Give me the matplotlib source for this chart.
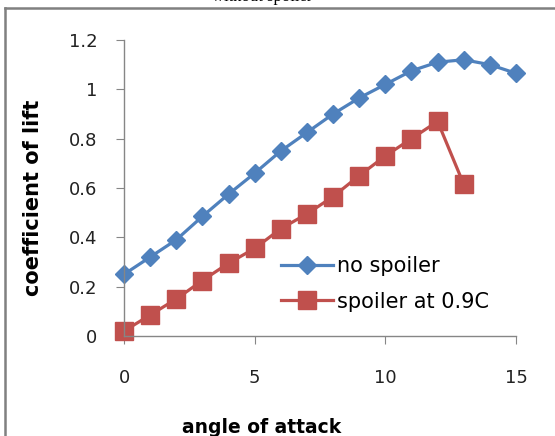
import matplotlib
matplotlib.use('Agg')
import matplotlib.pyplot as plt
from matplotlib.lines import Line2D

angle = [0, 1, 2, 3, 4, 5, 6, 7, 8, 9, 10, 11, 12, 13, 14, 15]
cl_no_spoiler = [0.25, 0.32, 0.39, 0.485, 0.575, 0.66, 0.75, 0.825, 0.90,
                 0.965, 1.02, 1.075, 1.11, 1.12, 1.10, 1.065]
angle_spoiler = [0, 1, 2, 3, 4, 5, 6, 7, 8, 9, 10, 11, 12, 13]
cl_spoiler = [0.02, 0.085, 0.15, 0.225, 0.295, 0.355, 0.435, 0.495, 0.565,
              0.65, 0.73, 0.80, 0.87, 0.615]
xticks = [0, 5, 10, 15]
yticks = [0, 0.2, 0.4, 0.6, 0.8, 1.0, 1.2]
ytick_labels = ['0', '0.2', '0.4', '0.6', '0.8', '1', '1.2']

W, H = 555, 436
fig = plt.figure(figsize=(W / 100, H / 100), dpi=100)
ax = fig.add_axes([124 / W, 1 - 336 / H, (516 - 124) / W, (336 - 40) / H])

blue = '#4F81BD'
red = '#C0504D'
gray = '#868686'

ax.plot(angle, cl_no_spoiler, color=blue, lw=2.3, marker='D', ms=9,
        label='no spoiler', clip_on=False)
ax.plot(angle_spoiler, cl_spoiler, color=red, lw=2.3, marker='s', ms=13,
        label='spoiler at 0.9C', clip_on=False)

ax.set_xlim(0, 15)
ax.set_ylim(0, 1.2)
ax.set_xticks(xticks)
ax.set_yticks(yticks)
ax.set_yticklabels(ytick_labels)

for s in ['top', 'right']:
    ax.spines[s].set_visible(False)
for s in ['left', 'bottom']:
    ax.spines[s].set_color(gray)
    ax.spines[s].set_linewidth(1.0)
ax.tick_params(axis='both', direction='out', length=6, color=gray,
               labelsize=13, labelcolor='#222222')
ax.tick_params(axis='y', pad=13)
ax.tick_params(axis='x', pad=18)

fig.text(262 / W, 1 - 433 / H, 'angle of attack', ha='center', va='baseline',
         fontsize=13.5, fontweight='bold')
fig.text(43 / W, 1 - 198 / H, 'coefficient of lift', ha='right', va='center',
         rotation=90, fontsize=15, fontweight='bold')

# cut-off title at the top of the picture
fig.text(262 / W, 1 - 1 / H, 'without spoiler', ha='center', va='baseline',
         fontsize=12, family='Liberation Serif')

leg = ax.legend(loc='center left', bbox_to_anchor=(0.378, 0.176), frameon=False,
                fontsize=15, handlelength=2.5, handletextpad=0.2,
                labelspacing=0.75, borderaxespad=0)

# outer chart frame
fig.add_artist(Line2D([5 / W, 5 / W], [0, 1 - 8 / H], transform=fig.transFigure,
                      color='#808080', lw=1.8))
fig.add_artist(Line2D([5 / W, 1], [1 - 8 / H, 1 - 8 / H], transform=fig.transFigure,
                      color='#808080', lw=1.8))

fig.savefig('out.png', dpi=100)
